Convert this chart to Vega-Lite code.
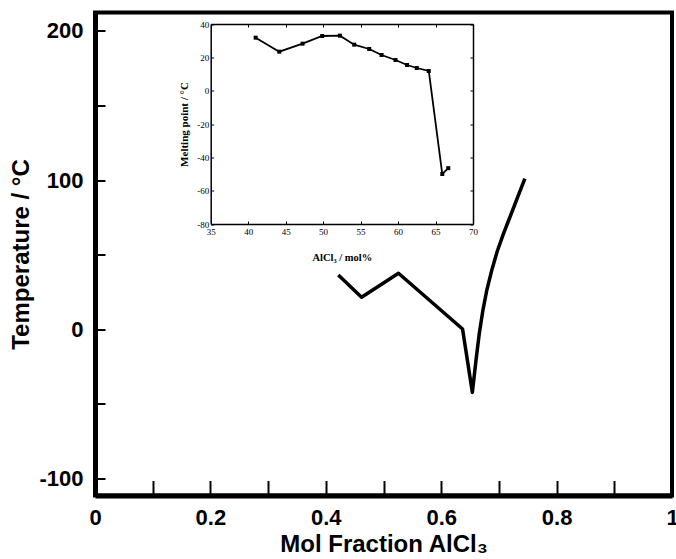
{
  "$schema": "https://vega.github.io/schema/vega-lite/v6.json",
  "autosize": {"type": "none"},
  "width": 577,
  "height": 483,
  "padding": {"left": 95, "top": 12.5, "right": 4, "bottom": 63.5},
  "background": "white",
  "config": {
    "view": {"stroke": "black", "strokeWidth": 4},
    "axis": {"labelColor": "black", "titleColor": "black", "domainColor": "black", "tickColor": "black", "grid": false, "labelOverlap": false, "labelFlush": false}
  },
  "datasets": {
    "main": [
      {"fraction": 0.4217, "temp": 36.2},
      {"fraction": 0.462, "temp": 21.3},
      {"fraction": 0.526, "temp": 37.4},
      {"fraction": 0.637, "temp": 0},
      {"fraction": 0.654, "temp": -42.5},
      {"fraction": 0.66, "temp": -22},
      {"fraction": 0.666, "temp": -3},
      {"fraction": 0.672, "temp": 12},
      {"fraction": 0.679, "temp": 26},
      {"fraction": 0.688, "temp": 40},
      {"fraction": 0.697, "temp": 52},
      {"fraction": 0.707, "temp": 63},
      {"fraction": 0.718, "temp": 74},
      {"fraction": 0.731, "temp": 87},
      {"fraction": 0.745, "temp": 101}
    ],
    "inset": [
      {"mol": 41.0, "mp": 31.8},
      {"mol": 44.15, "mp": 23.4},
      {"mol": 47.26, "mp": 28.2},
      {"mol": 49.88, "mp": 32.8},
      {"mol": 52.24, "mp": 33.0},
      {"mol": 54.15, "mp": 27.6},
      {"mol": 56.15, "mp": 25.0},
      {"mol": 57.8, "mp": 21.4},
      {"mol": 59.66, "mp": 18.4},
      {"mol": 61.2, "mp": 15.4},
      {"mol": 62.5, "mp": 13.6},
      {"mol": 64.1, "mp": 11.8},
      {"mol": 65.9, "mp": -50},
      {"mol": 66.7, "mp": -46.5}
    ]
  },
  "layer": [
    {
      "data": {"name": "main"},
      "mark": {"type": "line", "color": "black", "strokeWidth": 3.5, "strokeJoin": "round"},
      "encoding": {
        "x": {
          "field": "fraction", "type": "quantitative",
          "scale": {"domain": [0, 1], "nice": false, "zero": false},
          "axis": {
            "title": "Mol Fraction AlCl₃",
            "values": [0, 0.1, 0.2, 0.3, 0.4, 0.5, 0.6, 0.7, 0.8, 0.9, 1],
            "format": "~g",
            "labelExpr": "round(datum.value*10) % 2 === 0 ? datum.label : ''",
            "tickSize": -15, "tickWidth": 2, "domainWidth": 5,
            "labelPadding": 27,
            "labelFont": "Liberation Sans", "labelFontSize": 22, "labelFontWeight": "bold",
            "titleFont": "Liberation Sans", "titleFontSize": 24, "titleFontWeight": "bold",
            "titlePadding": 4
          }
        },
        "y": {
          "field": "temp", "type": "quantitative",
          "scale": {"domain": [-111.7, 212.4], "nice": false, "zero": false},
          "axis": {
            "title": "Temperature / °C",
            "values": [-100, -50, 0, 50, 100, 150, 200],
            "labelExpr": "datum.value % 100 === 0 ? '' + datum.value : ''",
            "tickSize": -10, "tickWidth": 2, "domainWidth": 5,
            "labelPadding": 22,
            "labelFont": "Liberation Sans", "labelFontSize": 22, "labelFontWeight": "bold",
            "titleFont": "Liberation Sans", "titleFontSize": 24, "titleFontWeight": "bold",
            "titlePadding": 5
          }
        }
      }
    },
    {
      "layer": [
        {
          "data": {"name": "inset"},
          "mark": {"type": "line", "color": "black", "strokeWidth": 1.8},
          "encoding": {
            "x": {
              "field": "mol", "type": "quantitative",
              "scale": {"domain": [35, 70], "range": [115.7, 378], "nice": false, "zero": false},
              "axis": {
                "orient": "bottom", "offset": -271.5,
                "title": "AlCl₃ / mol%",
                "values": [35, 40, 45, 50, 55, 60, 65, 70],
                "labelExpr": "'' + datum.value",
                "tickSize": -3, "tickWidth": 1, "domainWidth": 1.5,
                "labelPadding": 6,
                "labelFont": "Liberation Serif", "labelFontSize": 9,
                "titleFont": "Liberation Serif", "titleFontSize": 10.5, "titleFontWeight": "bold",
                "titlePadding": 16
              }
            },
            "y": {
              "field": "mp", "type": "quantitative",
              "scale": {"domain": [-80, 40], "range": [211.5, 11.5], "nice": false, "zero": false},
              "axis": {
                "orient": "left", "offset": -115.7,
                "title": "Melting point / °C",
                "values": [-80, -60, -40, -20, 0, 20, 40],
                "labelExpr": "'' + datum.value",
                "tickSize": -3, "tickWidth": 1, "domainWidth": 1.5,
                "labelPadding": 5,
                "labelFont": "Liberation Serif", "labelFontSize": 9,
                "titleFont": "Liberation Serif", "titleFontSize": 11, "titleFontWeight": "bold",
                "titlePadding": 7
              }
            }
          }
        },
        {
          "data": {"name": "inset"},
          "mark": {"type": "square", "color": "black", "size": 16, "opacity": 1},
          "encoding": {
            "x": {
              "field": "mol", "type": "quantitative",
              "axis": {
                "orient": "top", "offset": -11.5, "title": null, "labels": false,
                "values": [35, 40, 45, 50, 55, 60, 65, 70],
                "tickSize": -3, "tickWidth": 1, "domainWidth": 1.5
              }
            },
            "y": {
              "field": "mp", "type": "quantitative",
              "axis": {
                "orient": "right", "offset": -199, "title": null, "labels": false,
                "values": [-80, -60, -40, -20, 0, 20, 40],
                "tickSize": -3, "tickWidth": 1, "domainWidth": 1.5
              }
            }
          }
        }
      ],
      "resolve": {"axis": {"x": "independent", "y": "independent"}}
    }
  ],
  "resolve": {"scale": {"x": "independent", "y": "independent"}}
}
